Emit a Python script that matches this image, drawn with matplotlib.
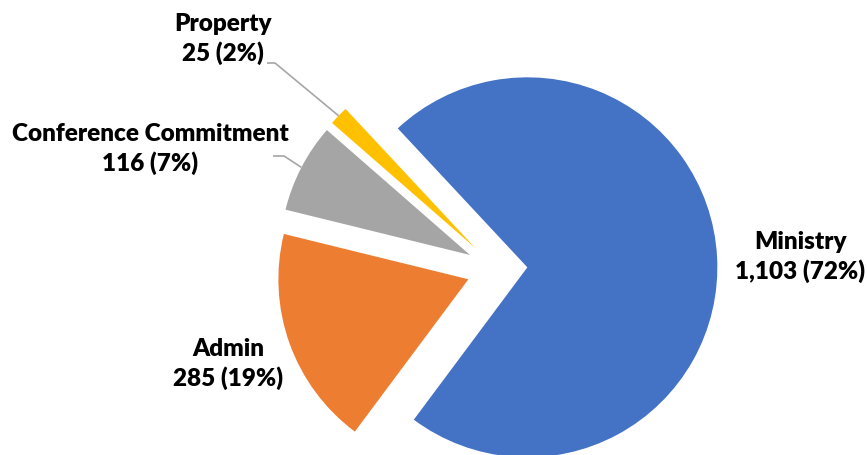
import numpy as np
import matplotlib
matplotlib.use("Agg")
import matplotlib.pyplot as plt

categories = ["Ministry", "Admin", "Conference Commitment", "Property"]
values = [1103, 285, 116, 25]
percents = ["72%", "19%", "7%", "2%"]
colors = ["#4472C4", "#ED7D31", "#A5A5A5", "#FFC000"]

plt.rcParams['font.family'] = ['Lato', 'DejaVu Sans']

W, H = 867, 455
scale = 190.0
cx, cy = 497, 269
fig = plt.figure(figsize=(W / 100, H / 100), dpi=100)
ax = fig.add_axes([0, 0, 1, 1])

explode = [0.16] * len(values)
wedges, _ = ax.pie(values, colors=colors, startangle=133, counterclock=False,
                   explode=explode, radius=1.0,
                   wedgeprops=dict(linewidth=0))
ax.set_xlim(-cx / scale, (W - cx) / scale)
ax.set_ylim(-(H - cy) / scale, cy / scale)
ax.set_aspect('equal', adjustable='datalim')
ax.axis('off')


def px(x, y):
    return (x - cx) / scale, (cy - y) / scale


label_pos = [px(800, 257), px(228, 364), px(150, 149), px(223, 39)]
for w, cat, v, p, pos in zip(wedges, categories, values, percents, label_pos):
    ax.text(pos[0], pos[1], f"{cat}\n{v:,} ({p})", ha='center', va='center',
            fontsize=17.5, fontweight='heavy', color='black', linespacing=1.35)

# leader lines for small slices
def outer_point(w):
    ang = np.deg2rad((w.theta1 + w.theta2) / 2)
    c = w.center
    return c[0] + w.r * np.cos(ang), c[1] + w.r * np.sin(ang)

leaders = {3: [px(275, 63), px(267, 63)], 2: [px(284, 156), px(273, 156)]}
for i, pts in leaders.items():
    start = outer_point(wedges[i])
    xs = [start[0]] + [p[0] for p in pts]
    ys = [start[1]] + [p[1] for p in pts]
    ax.plot(xs, ys, color='#A6A6A6', lw=1.2, solid_capstyle='butt')

fig.savefig("out.png", dpi=100)
